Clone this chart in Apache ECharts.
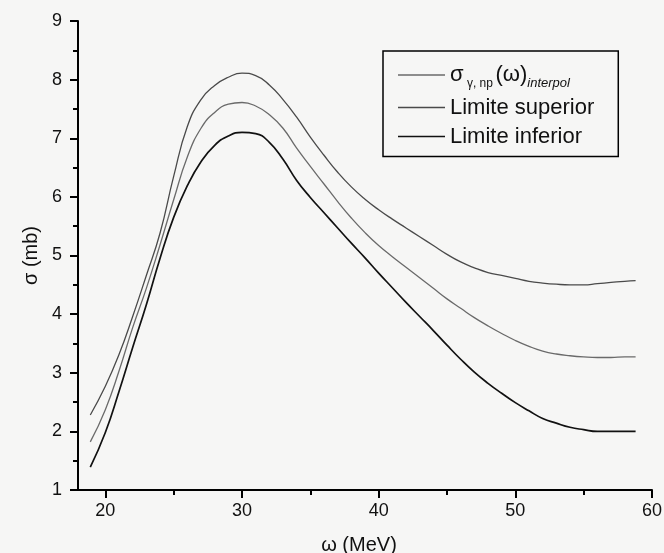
<!DOCTYPE html>
<html>
<head>
<meta charset="utf-8">
<script src="https://cdn.jsdelivr.net/npm/echarts@6/dist/echarts.min.js"></script>
<style>
  html, body { margin: 0; padding: 0; background: #f6f6f5; }
  #chart { width: 664px; height: 553px; }
</style>
</head>
<body>
<div id="chart"></div>
<script>
// Photon energy ω (MeV)
const omega = [18.9, 20, 21, 22, 23, 24, 25, 26, 27, 28, 29, 30, 31, 32, 33, 34, 35, 36, 37, 38, 39,
               40, 41, 42, 43, 44, 45, 46, 47, 48, 49, 50, 51, 52, 53, 54, 55, 56, 57, 58, 58.8];

// Cross sections σ (mb)
const sigmaInterpol = [1.82, 2.37, 3.03, 3.77, 4.44, 5.18, 5.95, 6.68, 7.17, 7.44, 7.58, 7.61, 7.55, 7.40, 7.17, 6.83, 6.52, 6.22, 5.92, 5.64, 5.39,
                       5.17, 4.98, 4.80, 4.62, 4.44, 4.26, 4.10, 3.94, 3.80, 3.67, 3.55, 3.45, 3.37, 3.32, 3.29, 3.27, 3.26, 3.26, 3.27, 3.27];
const sigmaSuperior = [2.28, 2.77, 3.31, 3.96, 4.66, 5.38, 6.35, 7.20, 7.66, 7.90, 8.04, 8.11, 8.07, 7.91, 7.66, 7.36, 7.02, 6.71, 6.42, 6.17, 5.96,
                       5.78, 5.62, 5.47, 5.32, 5.17, 5.02, 4.89, 4.79, 4.71, 4.66, 4.61, 4.56, 4.53, 4.51, 4.50, 4.50, 4.52, 4.54, 4.56, 4.57];
const sigmaInferior = [1.39, 1.98, 2.68, 3.43, 4.16, 4.95, 5.65, 6.19, 6.60, 6.88, 7.04, 7.10, 7.08, 6.93, 6.64, 6.28, 5.99, 5.73, 5.47, 5.21, 4.96,
                       4.70, 4.45, 4.20, 3.96, 3.72, 3.47, 3.23, 3.01, 2.82, 2.65, 2.49, 2.35, 2.22, 2.14, 2.07, 2.03, 2.00, 2.00, 2.00, 2.00];

// Axis ticks
const xMajorTicks = [20, 30, 40, 50, 60];
const xMinorTicks = [25, 35, 45, 55];

const seriesNames = ['interpol', 'Limite superior', 'Limite inferior'];

const FONT = '"Liberation Sans", Arial, Helvetica, sans-serif';
const pairs = ys => omega.map((x, i) => [x, ys[i]]);

const chart = echarts.init(document.getElementById('chart'), null, { renderer: 'canvas' });

const lineSeries = (name, ys, color, width) => ({
  name: name,
  type: 'line',
  data: pairs(ys),
  smooth: 0.5,
  symbol: 'none',
  lineStyle: { color: color, width: width },
  itemStyle: { color: color },
  xAxisIndex: 0,
  yAxisIndex: 0
});

chart.setOption({
  backgroundColor: '#f6f6f5',
  animation: false,
  grid: { left: 78, right: 12, top: 21, bottom: 63, outerBoundsMode: 'none', containLabel: false },
  xAxis: [
    {
      type: 'value',
      min: 18, max: 60,
      position: 'bottom',
      name: 'ω (MeV)',
      nameLocation: 'middle',
      nameGap: 45,
      nameTextStyle: { fontFamily: FONT, fontSize: 20, color: '#111', padding: [0, 12, 0, 0] },
      axisLine: { show: true, onZero: false, lineStyle: { color: '#000', width: 2 } },
      axisTick: { show: true, length: 8, customValues: xMajorTicks, lineStyle: { color: '#000', width: 2 } },
      axisLabel: { customValues: xMajorTicks, margin: 12, fontFamily: FONT, fontSize: 18, color: '#111',
                   showMinLabel: true, showMaxLabel: true },
      splitLine: { show: false }
    },
    {
      type: 'value',
      min: 18, max: 60,
      position: 'bottom',
      axisLine: { show: false },
      axisTick: { show: true, length: 5, customValues: xMinorTicks, lineStyle: { color: '#000', width: 2 } },
      axisLabel: { show: false },
      splitLine: { show: false }
    }
  ],
  yAxis: {
    type: 'value',
    min: 1, max: 9, interval: 1,
    name: 'σ (mb)',
    nameLocation: 'middle',
    nameGap: 36,
    nameTextStyle: { fontFamily: FONT, fontSize: 20, color: '#111' },
    axisLine: { show: true, lineStyle: { color: '#000', width: 2 } },
    axisTick: { show: true, length: 8, lineStyle: { color: '#000', width: 2 } },
    minorTick: { show: true, splitNumber: 2, length: 5, lineStyle: { color: '#000', width: 2 } },
    axisLabel: { margin: 16, fontFamily: FONT, fontSize: 18, color: '#111' },
    splitLine: { show: false },
    minorSplitLine: { show: false }
  },
  legend: {
    orient: 'vertical',
    left: 383,
    top: 51,
    padding: [13, 24, 9, 15],
    itemGap: 7,
    icon: 'rect',
    itemWidth: 47,
    itemHeight: 1.6,
    itemTextGap: 9,
    borderColor: '#000',
    borderWidth: 1.5,
    backgroundColor: 'transparent',
    data: seriesNames,
    formatter: function (name) {
      if (name === 'interpol') {
        return '{s|σ}{sub| γ, np}{gap| }{s|(ω)}{it|interpol}';
      }
      return name;
    },
    textStyle: {
      fontFamily: FONT,
      fontSize: 22,
      color: '#111',
      rich: {
        s: { fontFamily: FONT, fontSize: 22, color: '#111', lineHeight: 29 },
        sub: { fontFamily: FONT, fontSize: 12, color: '#111', verticalAlign: 'bottom', lineHeight: 12 },
        gap: { fontFamily: FONT, fontSize: 9, lineHeight: 10 },
        it: { fontFamily: FONT, fontSize: 13, fontStyle: 'italic', color: '#111', verticalAlign: 'bottom', lineHeight: 12 }
      }
    }
  },
  series: [
    lineSeries(seriesNames[0], sigmaInterpol, '#6a6a6a', 1.3),
    lineSeries(seriesNames[1], sigmaSuperior, '#4a4a4a', 1.3),
    lineSeries(seriesNames[2], sigmaInferior, '#111111', 1.7)
  ]
});
</script>
</body>
</html>
